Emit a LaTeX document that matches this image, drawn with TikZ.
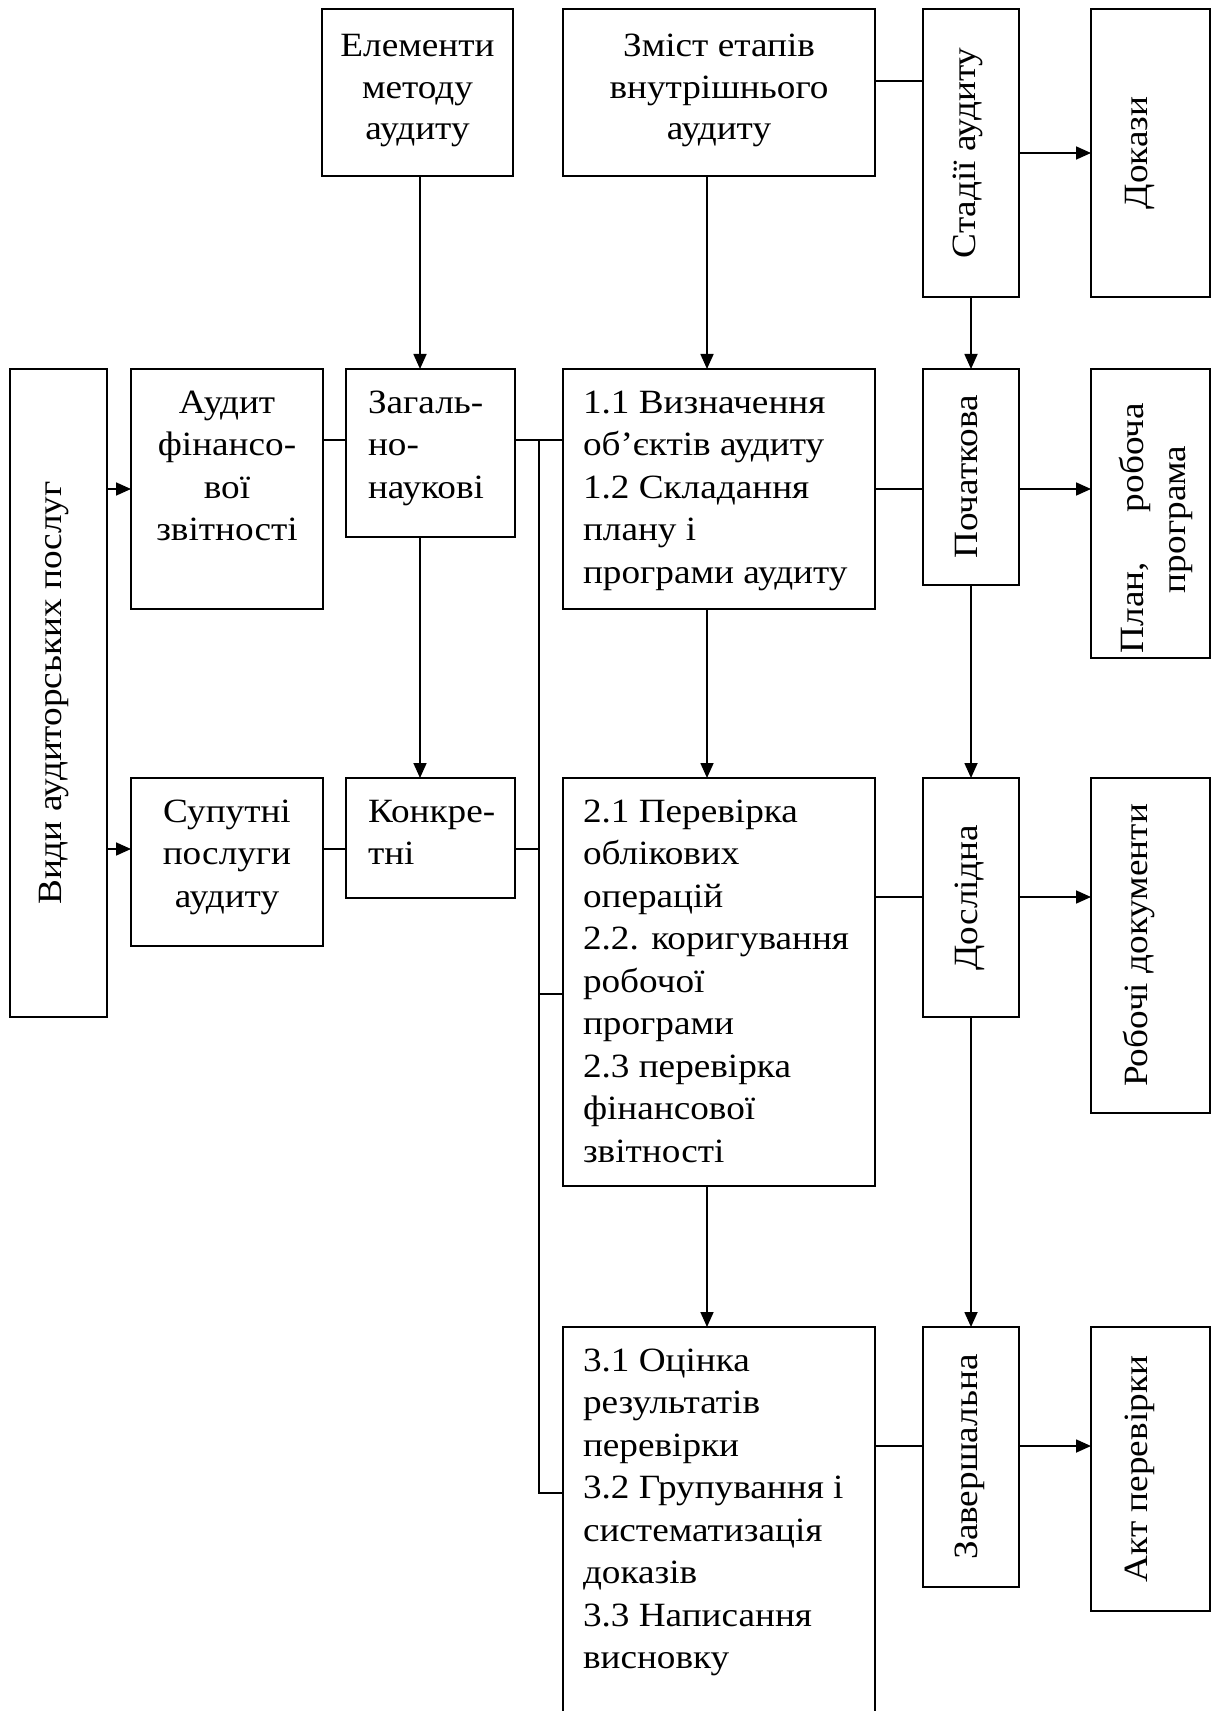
\documentclass[tikz,border=0pt]{standalone}
\usepackage{fontspec}
\usepackage{graphicx}
\setmainfont[FakeStretch=1.095]{Liberation Serif}
\usetikzlibrary{arrows.meta}
% #1 width, #2 height, #3 alignment, #4 top gap, #5 text
\newcommand{\cellt}[5]{\parbox[c][#2][t]{#1}{#3\vspace*{#4}\rule{0pt}{15pt}#5}}
\newcommand{\cellr}[5]{\rotatebox{90}{\cellt{#1}{#2}{#3}{#4}{#5}}}
\begin{document}
\begin{tikzpicture}[x=0.5pt,y=-0.5pt,
  cell/.style={draw, line width=1pt, inner sep=0pt, outer sep=0pt,
    font=\fontsize{17pt}{21.25pt}\selectfont},
  topcell/.style={cell, font=\fontsize{17pt}{20.75pt}\selectfont},
  conn/.style={line width=0.85pt},
  arr/.style={conn, -{Triangle[length=7.5pt,width=6.5pt]}}]
\useasboundingbox (0,0) rectangle (1212,1711);

% top row
\node[topcell] (elem) at (417.5,92.5) {\cellt{95.5pt}{83.5pt}{\centering}{9pt}{Елементи\\методу\\аудиту}};
\node[topcell] (zmist) at (719,92.5) {\cellt{156pt}{83.5pt}{\centering}{9pt}{Зміст етапів\\внутрішнього\\аудиту}};
\node[cell] (stadii) at (971,153) {\cellr{144pt}{48pt}{\centering}{11pt}{Стадії аудиту}};
\node[cell] (dokazy) at (1150.5,153) {\cellr{144pt}{59.5pt}{\centering}{13pt}{Докази}};

% left column
\node[cell] (vydy) at (58.5,693) {\cellr{324pt}{48.5pt}{\centering}{11pt}{Види аудиторських послуг}};

% second row
\node[cell] (audfin) at (227,489) {\cellt{96pt}{120pt}{\centering}{7pt}{Аудит\\фінансо-\\вої\\звітності}};
\node[cell] (zahal) at (430.5,453) {\cellt{84.5pt}{84pt}{\raggedright\leftskip=11pt}{7pt}{Загаль-\\но-\\наукові}};
\node[cell] (s11) at (719,489) {\cellt{156pt}{120pt}{\raggedright\leftskip=10pt}{7pt}{1.1 Визначення\\об’єктів аудиту\\1.2 Складання\\плану і\\програми аудиту}};
\node[cell] (pochat) at (971,477) {\cellr{108pt}{48pt}{\centering}{12pt}{Початкова}};
\node[cell] (plan) at (1150.5,513.5) {\rotatebox{90}{\parbox[c][59.5pt][t]{144.5pt}{\raggedright\vspace*{11pt}\rule{0pt}{15pt}\hspace*{2.5pt}\makebox[125pt]{План,\hfill робоча}\\\hspace*{32.5pt}програма}}};

% third row
\node[cell] (suput) at (227,862) {\cellt{96pt}{84pt}{\centering}{7pt}{Супутні\\послуги\\аудиту}};
\node[cell] (konkr) at (430.5,838) {\cellt{84.5pt}{60pt}{\raggedright\leftskip=11pt}{7pt}{Конкре-\\тні}};
\node[cell] (s21) at (719,982) {\cellt{156pt}{204pt}{\raggedright\leftskip=10pt}{7pt}{2.1 Перевірка\\облікових\\операцій\\2.2. коригування\\робочої\\програми\\2.3 перевірка\\фінансової\\звітності}};
\node[cell] (doslid) at (971,897.5) {\cellr{119.5pt}{48pt}{\centering}{12pt}{Дослідна}};
\node[cell] (robochi) at (1150.5,945.5) {\cellr{167.5pt}{59.5pt}{\centering}{13pt}{Робочі документи}};

% fourth row
\node[cell] (s31) at (719,1520.5) {\cellt{156pt}{193.5pt}{\raggedright\leftskip=10pt}{7pt}{3.1 Оцінка\\результатів\\перевірки\\3.2 Групування і\\систематизація\\доказів\\3.3 Написання\\висновку}};
\node[cell] (zaversh) at (971,1457) {\cellr{130pt}{48pt}{\centering}{12pt}{Завершальна}};
\node[cell] (akt) at (1150.5,1469) {\cellr{142pt}{59.5pt}{\centering}{13pt}{Акт перевірки}};

% helper levels
\coordinate (h81) at (0,81);
\coordinate (h153) at (0,153);
\coordinate (h440) at (0,440);
\coordinate (h489) at (0,489);
\coordinate (h849) at (0,849);
\coordinate (h897) at (0,897);
\coordinate (h994) at (0,994);
\coordinate (h1446) at (0,1446);
\coordinate (h1493) at (0,1493);
\coordinate (v420) at (420,0);
\coordinate (v539) at (539,0);
\coordinate (v707) at (707,0);

% vertical arrows
\draw[arr] (elem.south -| v420) -- (zahal.north -| v420);
\draw[arr] (zahal.south -| v420) -- (konkr.north -| v420);
\draw[arr] (zmist.south -| v707) -- (s11.north -| v707);
\draw[arr] (s11.south -| v707) -- (s21.north -| v707);
\draw[arr] (s21.south -| v707) -- (s31.north -| v707);
\draw[arr] (stadii.south) -- (pochat.north);
\draw[arr] (pochat.south) -- (doslid.north);
\draw[arr] (doslid.south) -- (zaversh.north);

% horizontal connectors
\draw[conn] (zmist.east |- h81) -- (stadii.west |- h81);
\draw[arr] (stadii.east |- h153) -- (dokazy.west |- h153);
\draw[arr] (vydy.east |- h489) -- (audfin.west |- h489);
\draw[arr] (vydy.east |- h849) -- (suput.west |- h849);
\draw[conn] (audfin.east |- h440) -- (zahal.west |- h440);
\draw[conn] (zahal.east |- h440) -- (s11.west |- h440);
\draw[conn] (v539 |- h440) -- (v539 |- h1493) -- (s31.west |- h1493);
\draw[conn] (suput.east |- h849) -- (konkr.west |- h849);
\draw[conn] (konkr.east |- h849) -- (v539 |- h849);
\draw[conn] (v539 |- h994) -- (s21.west |- h994);
\draw[conn] (s11.east |- h489) -- (pochat.west |- h489);
\draw[arr] (pochat.east |- h489) -- (plan.west |- h489);
\draw[conn] (s21.east |- h897) -- (doslid.west |- h897);
\draw[arr] (doslid.east |- h897) -- (robochi.west |- h897);
\draw[conn] (s31.east |- h1446) -- (zaversh.west |- h1446);
\draw[arr] (zaversh.east |- h1446) -- (akt.west |- h1446);
\end{tikzpicture}
\end{document}
